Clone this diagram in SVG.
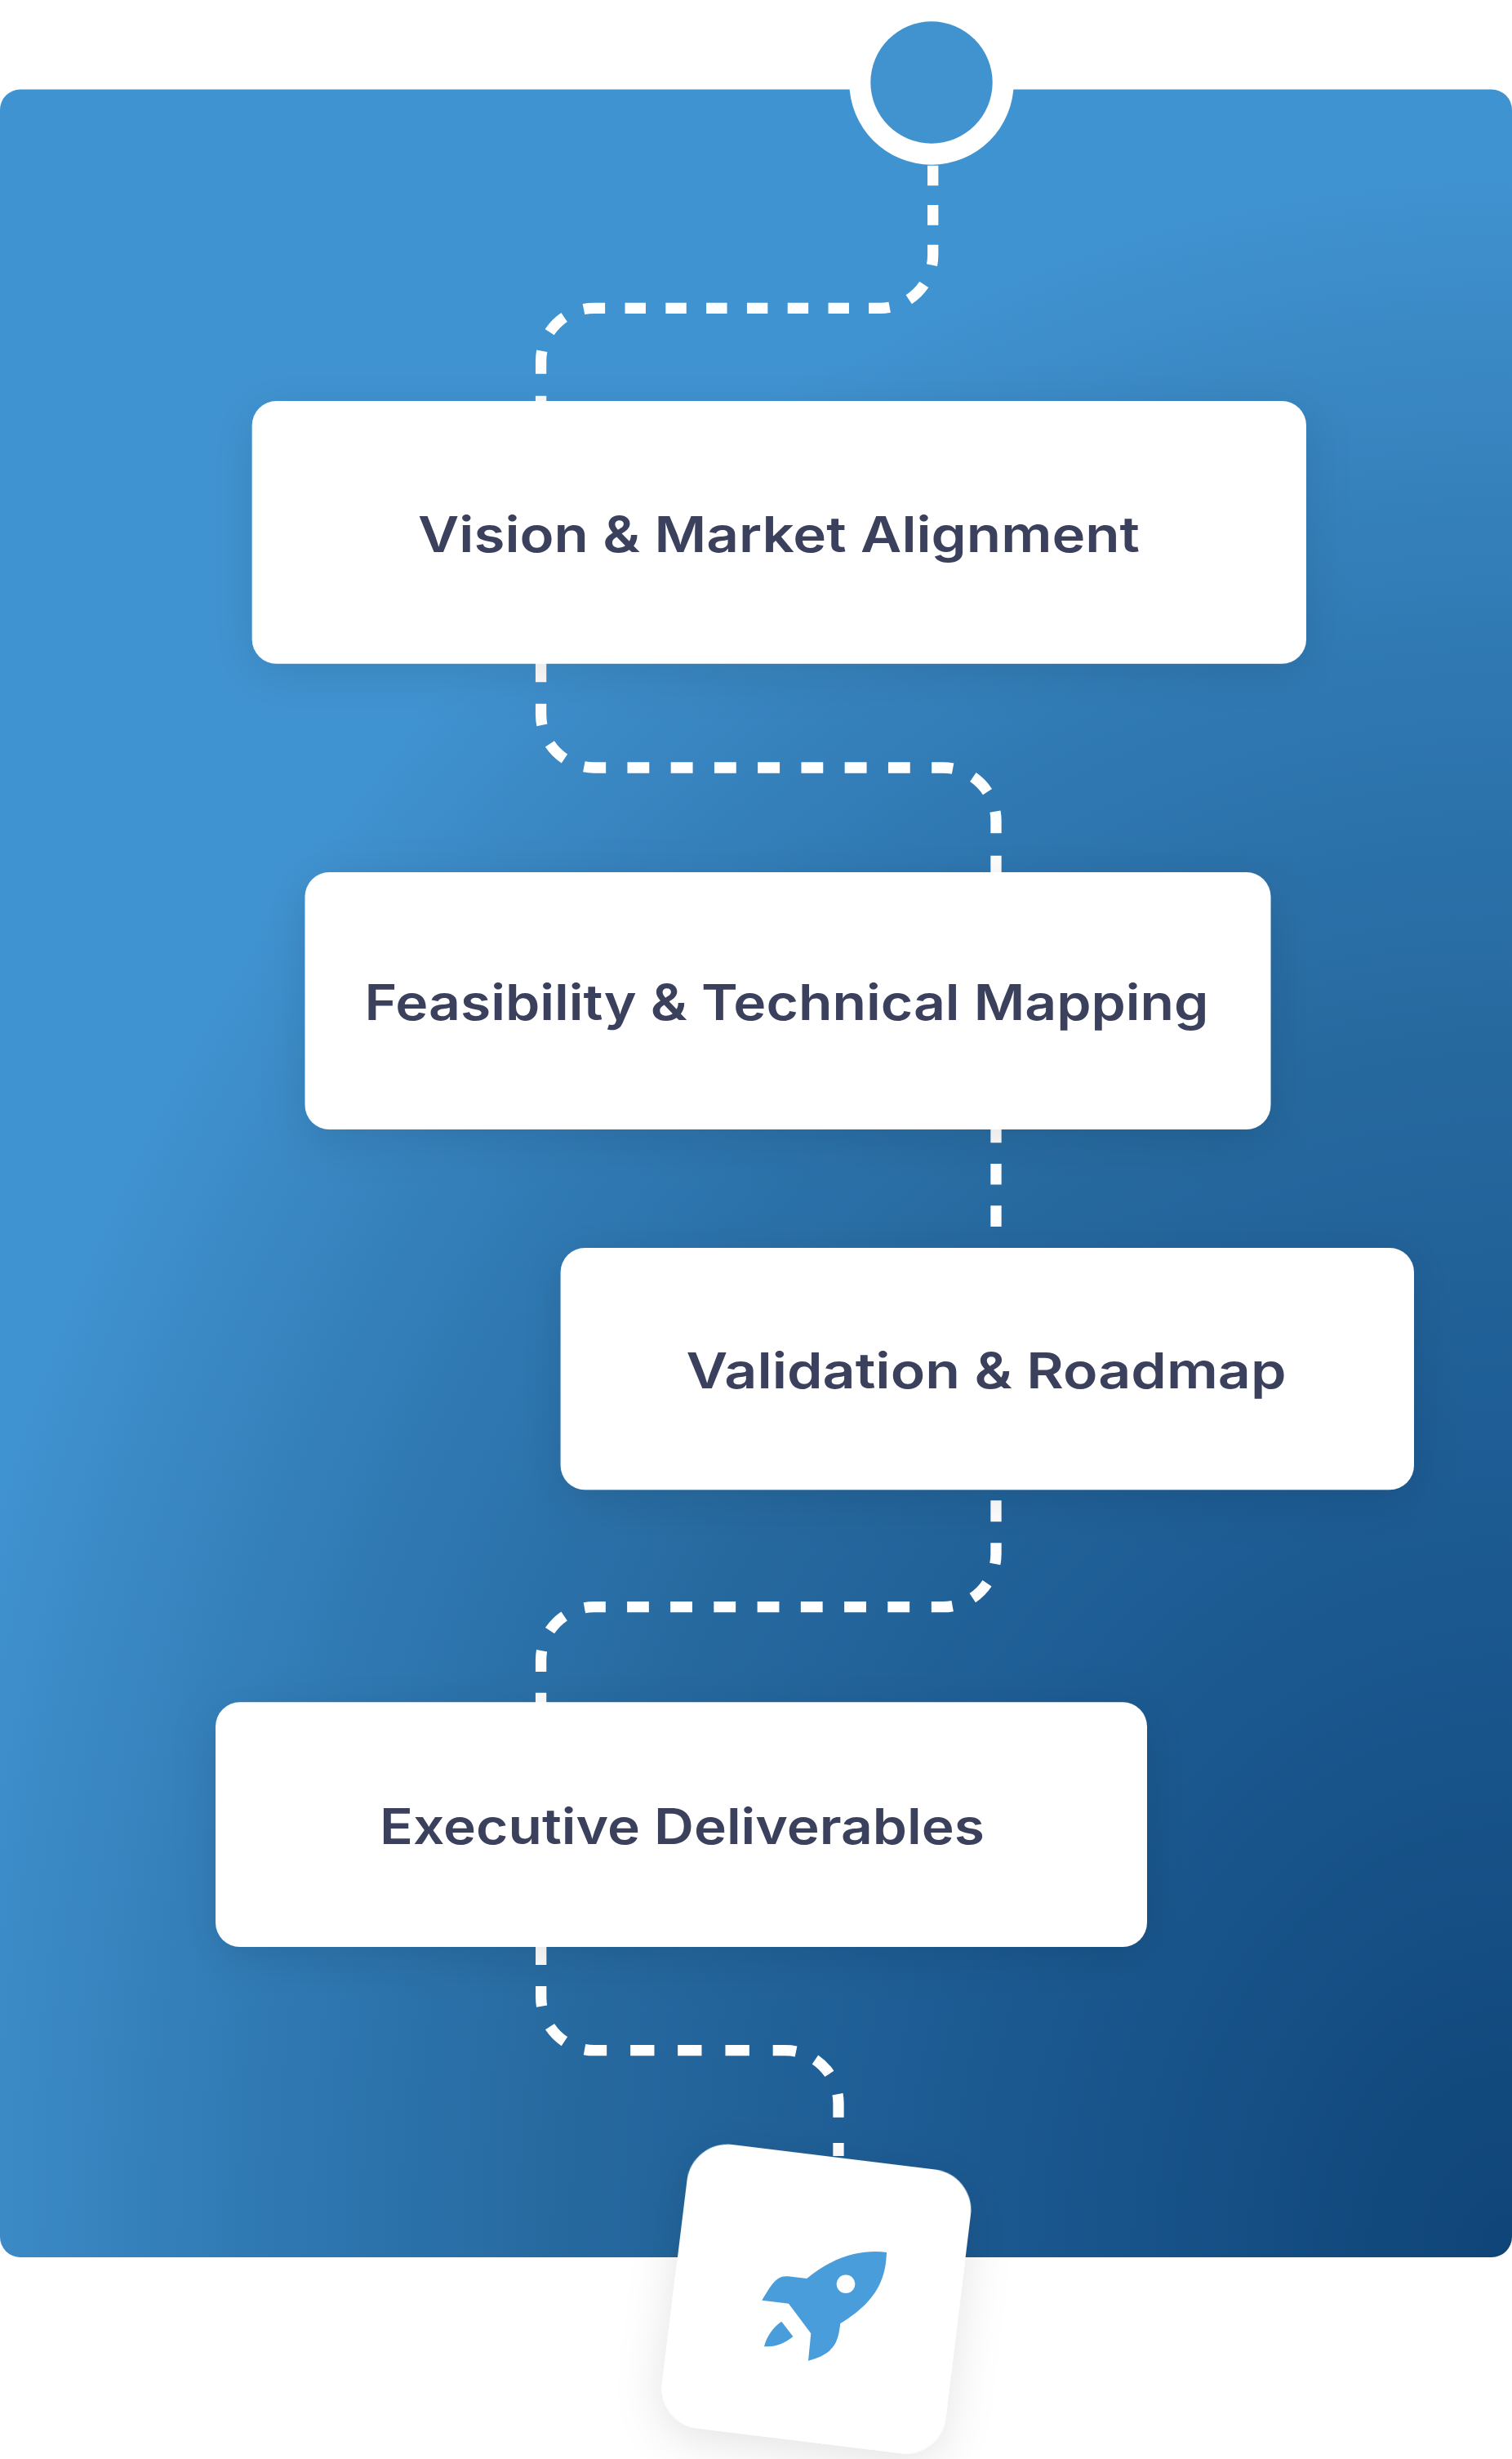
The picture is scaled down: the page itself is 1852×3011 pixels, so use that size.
<svg xmlns="http://www.w3.org/2000/svg" width="1852" height="3011" viewBox="0 0 1852 3011">
<style>
.card{fill:#fff;filter:url(#sh)}
.lbl{font-family:"Inter","Noto Sans","Liberation Sans",sans-serif;font-weight:600;font-size:60.5px;fill:#3b415c}
.c{fill:none;stroke:#fff;stroke-width:13.3}
</style>
<defs>
<radialGradient id="bg" gradientUnits="userSpaceOnUse" cx="0" cy="0" r="1" gradientTransform="translate(1852 2764) scale(2000 2560)">
<stop offset="0" stop-color="#0f4477"/><stop offset="0.38" stop-color="#1d5c94"/><stop offset="0.58" stop-color="#26699f"/><stop offset="0.76" stop-color="#2f78b2"/><stop offset="0.91" stop-color="#3a88c4"/><stop offset="1" stop-color="#4093d1"/>
</radialGradient>
<filter id="sh" x="-30%" y="-40%" width="160%" height="180%"><feDropShadow dx="0" dy="12" stdDeviation="28" flood-color="#000" flood-opacity="0.11"/></filter>
</defs>
<rect width="1852" height="3011" fill="#fff"/>
<rect id="panel" x="0" y="109.5" width="1852" height="2654.5" rx="25" fill="url(#bg)"/>
<g id="start"><circle cx="1141" cy="101" r="100.7" fill="#fff"/><circle cx="1141" cy="101" r="74.7" fill="#4193d0"/></g>
<g id="connectors">
<path class="c" d="M1142.7 202.7V312.3A65 65 0 0 1 1077.7 377.3H727.6A65 65 0 0 0 662.6 442.3V495" stroke-dasharray="24.6 23.8 24.6 24 25 25.8 26.2 25.5 25.6 24.2 25.4 24.4 25.4 24.4 25.4 24.4 25.4 24.4 25.4 24.4 25.4 24.4 26.3 25.9 25.7 25 27.9 27 20 100"/>
<path class="c" d="M662.6 808V875A65 65 0 0 0 727.6 940H1155A65 65 0 0 1 1220 1005V1072" stroke-dasharray="27.3 26.4 26.3 25 25.6 26 26.9 26.3 26.8 26.4 26.9 26.4 26.8 26.4 26.9 26.4 26.8 26.4 26.9 26.4 26.8 26.4 26 27 25.3 26 26.8 27.3 30 100"/>
<path class="c" d="M1220 1373.6V1510" stroke-dasharray="25.7 25.6"/>
<path class="c" d="M1220 1837.3V1902.7A65 65 0 0 1 1155 1967.7H727.6A65 65 0 0 0 662.6 2032.7V2090" stroke-dasharray="26 26 25.7 25.9 25.3 26.7 25.9 26.7 26.8 26.4 26.8 26.5 26.8 26.4 26.8 26.5 26.8 26.4 26.8 26.3 26.7 26.3 26 26.9 25.1 26.7 25.8 25.6 30 100"/>
<path class="c" d="M662.7 2376V2445.7A65 65 0 0 0 727.7 2510.7H962A65 65 0 0 1 1027 2575.7V2640" stroke-dasharray="30 26 24.6 27.1 25.5 26.7 27.2 29 29.3 28.7 29.3 29 29.4 28.8 28.5 25.5 24.8 27 28.4 31.4 40 100"/>
</g>
<g id="card1"><rect class="card" x="308.7" y="491" width="1291.3" height="321.7" rx="30"/><text class="lbl" x="954" y="676" text-anchor="middle" textLength="884" lengthAdjust="spacingAndGlyphs">Vision &amp; Market Alignment</text></g>
<g id="card2"><rect class="card" x="373.5" y="1068" width="1183" height="315" rx="30"/><text class="lbl" x="963.5" y="1249" text-anchor="middle" textLength="1034" lengthAdjust="spacingAndGlyphs">Feasibility &amp; Technical Mapping</text></g>
<g id="card3"><rect class="card" x="686.6" y="1528" width="1045.4" height="296.3" rx="30"/><text class="lbl" x="1208" y="1699.5" text-anchor="middle" textLength="735" lengthAdjust="spacingAndGlyphs">Validation &amp; Roadmap</text></g>
<g id="card4"><rect class="card" x="264" y="2084.3" width="1141" height="299.7" rx="30"/><text class="lbl" x="835.5" y="2257.7" text-anchor="middle" textLength="741" lengthAdjust="spacingAndGlyphs">Executive Deliverables</text></g>
<g id="rocket">
<rect class="card" x="825" y="2640" width="350" height="350" rx="50" transform="rotate(7 1000 2815)"/>
<path fill="#4a9ddb" fill-rule="evenodd" d="M1086 2758C1061.7 2755 1026.7 2758.3 988.3 2790L965 2787.3C951.7 2786 945 2796.7 933.3 2816.7L966 2820.7L993.3 2857.3L990 2890.7C1023.3 2881.7 1026.7 2866.7 1029.3 2845C1076.7 2816.7 1085 2786.7 1086 2758ZM1047.3 2796.7a11.3 11.3 0 1 1-22.6 0a11.3 11.3 0 1 1 22.6 0ZM957.3 2842.7L971.3 2861C956.7 2873.3 945 2873.3 936 2873.3C941.7 2851.7 957.3 2842.7 957.3 2842.7Z"/>
</g>
</svg>
